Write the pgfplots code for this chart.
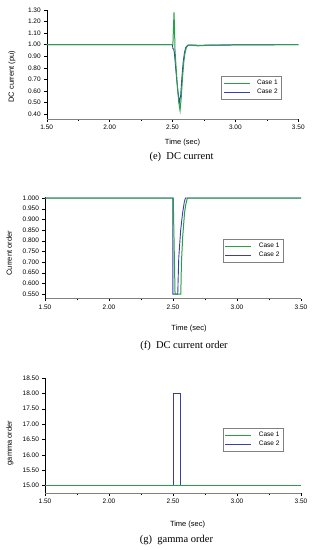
\documentclass[border=0pt]{standalone}
\usepackage{fontspec}
\setmainfont{Liberation Sans}
\newfontfamily\capfont{Liberation Serif}
\usepackage{pgfplots}
\pgfplotsset{compat=1.18}
\definecolor{cgreen}{RGB}{40,160,70}
\definecolor{cblue}{RGB}{60,60,170}
\pgfplotsset{myax/.style={
  scale only axis, anchor=south west,
  axis x line*=bottom, axis y line*=left,
  x axis line style={-, draw=gray, line width=1pt},
  y axis line style={-, draw=black, line width=0.4pt},
  xmin=1.5, xmax=3.5, xtick={1.5,2,2.5,3,3.5}, minor x tick num=1,
  tick align=outside, major tick length=2.5pt, minor tick length=1.5pt,
  every tick/.style={black, line width=0.4pt},
  tick label style={font=\fontsize{6.5}{7}\selectfont},
  /pgf/number format/assume math mode=true,
  x tick label style={/pgf/number format/fixed, /pgf/number format/fixed zerofill, /pgf/number format/precision=2},
  xlabel={Time (sec)},
  xlabel style={font=\fontsize{7.5}{8}\selectfont, anchor=center},
  ylabel style={font=\fontsize{7.5}{8}\selectfont, anchor=center},
  legend style={draw=gray, line width=0.4pt, fill=white, font=\fontsize{6.5}{7}\selectfont, anchor=north west, inner sep=1.8pt, row sep=-1pt},
  legend image code/.code={\draw[#1] (0pt,0pt) -- (26pt,0pt); \path (31pt,0pt);},
  reverse legend,
  clip=false,
}}
\begin{document}
\begin{tikzpicture}[x=1pt,y=1pt]
\path[use as bounding box] (0,0) rectangle (313,550);
% (e) DC current
\begin{axis}[myax, at={(46.7pt,430.7pt)}, width=251.6pt, height=109.3pt,
  ymin=0.354, ymax=1.30, ytick={0.4,0.5,0.6,0.7,0.8,0.9,1.0,1.1,1.2,1.3},
  y tick label style={/pgf/number format/fixed, /pgf/number format/fixed zerofill, /pgf/number format/precision=2},
  ylabel={DC current (pu)},
  xlabel style={at={(axis description cs:0.54,0)}, yshift=-23.7pt},
  ylabel style={at={(axis description cs:-0.138,0.39)}},
  legend style={at={(axis description cs:0.693,0.396)}}]
\addplot[cblue, line width=0.9pt] coordinates {(1.5,1.0) (2.50,1.0) (2.503,0.965) (2.51,0.96) (2.515,0.93) (2.525,0.80) (2.535,0.68) (2.545,0.58) (2.555,0.50) (2.565,0.56) (2.575,0.72) (2.585,0.85) (2.595,0.93) (2.605,0.975) (2.62,0.995) (2.65,0.997) (2.7,0.995) (3.5,1.0)};
\addlegendentry{Case 2}
\addplot[cgreen, line width=1pt] coordinates {(1.5,1.0) (2.50,1.0) (2.503,1.0) (2.508,1.15) (2.512,1.28) (2.516,1.15) (2.52,0.95) (2.53,0.78) (2.54,0.62) (2.55,0.50) (2.56,0.43) (2.57,0.55) (2.58,0.72) (2.59,0.85) (2.60,0.93) (2.61,0.975) (2.625,0.995) (2.65,0.995) (2.7,0.99) (2.8,0.995) (3.0,1.0) (3.5,1.0)};
\addlegendentry{Case 1}
\end{axis}
\node[font=\capfont\fontsize{10.5}{12}\selectfont] at (181.5,393) {(e)\ \ DC current};
% (f) DC current order
\begin{axis}[myax, at={(45pt,251pt)}, width=256pt, height=101.6pt,
  ymin=0.527, ymax=1.003, ytick={0.55,0.6,0.65,0.7,0.75,0.8,0.85,0.9,0.95,1.0},
  y tick label style={/pgf/number format/fixed, /pgf/number format/fixed zerofill, /pgf/number format/precision=3},
  ylabel={Current order},
  xlabel style={at={(axis description cs:0.5625,0)}, yshift=-30pt},
  ylabel style={at={(axis description cs:-0.1395,0.45)}},
  legend style={at={(axis description cs:0.695,0.59)}}]
\addplot[cblue, line width=0.9pt] coordinates {(1.5,1.0) (2.498,1.0) (2.499,0.55) (2.537,0.55) (2.545,0.72) (2.56,0.85) (2.575,0.93) (2.588,0.98) (2.597,1.0) (3.5,1.0)};
\addlegendentry{Case 2}
\addplot[cgreen, line width=1pt] coordinates {(1.5,1.0) (2.502,1.0) (2.516,0.55) (2.561,0.55) (2.566,0.70) (2.576,0.82) (2.59,0.93) (2.60,0.97) (2.612,1.0) (3.5,1.0)};
\addlegendentry{Case 1}
\end{axis}
\node[font=\capfont\fontsize{10.5}{12}\selectfont] at (184,204) {(f)\ \ DC current order};
% (g) gamma order
\begin{axis}[myax, at={(45pt,57pt)}, width=256pt, height=115pt,
  ymin=14.76, ymax=18.5, ytick={15,15.5,16,16.5,17,17.5,18,18.5},
  y tick label style={/pgf/number format/fixed, /pgf/number format/fixed zerofill, /pgf/number format/precision=2},
  ylabel={gamma order},
  xlabel style={at={(axis description cs:0.557,0)}, yshift=-32pt},
  ylabel style={at={(axis description cs:-0.137,0.435)}},
  legend style={at={(axis description cs:0.695,0.565)}}]
\addplot[cblue, line width=0.9pt] coordinates {(1.5,15.0) (2.50,15.0) (2.50,18.0) (2.555,18.0) (2.555,15.0) (3.5,15.0)};
\addlegendentry{Case 2}
\addplot[cgreen, line width=1pt] coordinates {(1.5,15.0) (3.5,15.0)};
\addlegendentry{Case 1}
\end{axis}
\node[font=\capfont\fontsize{10.5}{12}\selectfont] at (176.5,10) {(g)\ \ gamma order};
\end{tikzpicture}
\end{document}
